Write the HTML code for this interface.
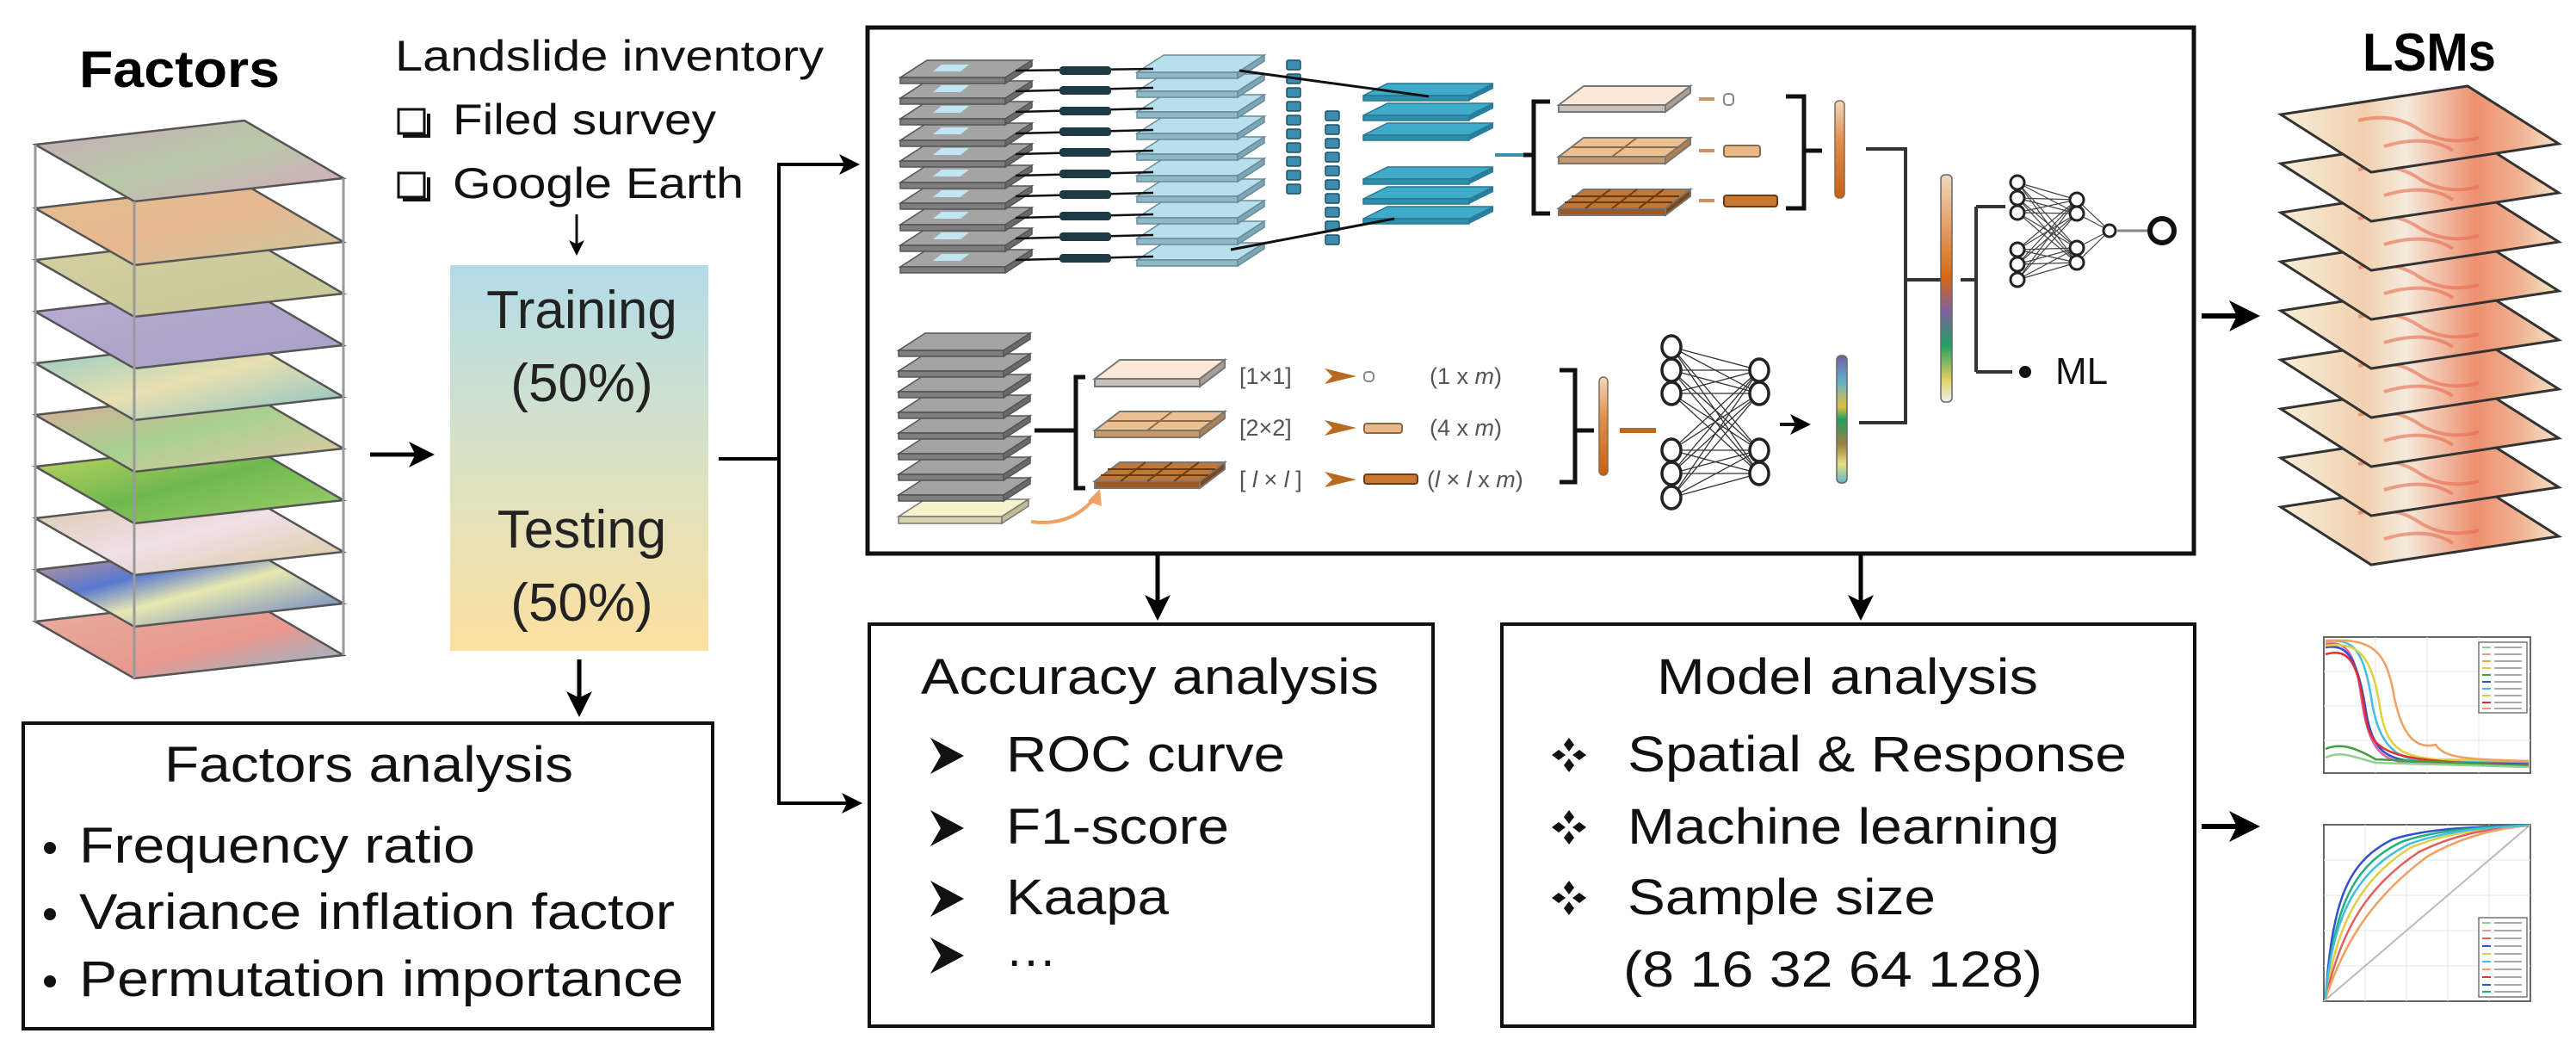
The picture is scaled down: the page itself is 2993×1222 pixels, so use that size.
<!DOCTYPE html>
<html><head><meta charset="utf-8"><style>
html,body{margin:0;padding:0;background:#fff;}
svg{display:block;font-family:"Liberation Sans",Arial,sans-serif;}
</style></head><body>
<svg width="2993" height="1222" viewBox="0 0 2993 1222" xmlns="http://www.w3.org/2000/svg">
<defs>
<marker id="ah" markerWidth="6" markerHeight="6" refX="5" refY="3" orient="auto" markerUnits="strokeWidth"><path d="M0,0 L6,3 L0,6 L1.5,3 z" fill="#000"/></marker>
<linearGradient id="tt" x1="0" y1="0" x2="0" y2="1"><stop offset="0" stop-color="#b3dbe9"/><stop offset="0.5" stop-color="#d9e2c4"/><stop offset="1" stop-color="#fde0a0"/></linearGradient>
<linearGradient id="f1" x1="0" y1="0" x2="1" y2="1"><stop offset="0" stop-color="#c9a9b9"/><stop offset=".5" stop-color="#b8c8a8"/><stop offset="1" stop-color="#d8a8c0"/></linearGradient>
<linearGradient id="f2" x1="0" y1="0" x2="1" y2="1"><stop offset="0" stop-color="#e0c090"/><stop offset=".5" stop-color="#e8b890"/><stop offset="1" stop-color="#c8c8a0"/></linearGradient>
<linearGradient id="f3" x1="0" y1="0" x2="1" y2="1"><stop offset="0" stop-color="#d4cfa0"/><stop offset="1" stop-color="#c8c898"/></linearGradient>
<linearGradient id="f4" x1="0" y1="0" x2="1" y2="1"><stop offset="0" stop-color="#b8acd0"/><stop offset="1" stop-color="#a8a0c8"/></linearGradient>
<linearGradient id="f5" x1="0" y1="0" x2="1" y2="1"><stop offset="0" stop-color="#8cc8c8"/><stop offset=".5" stop-color="#e8e0b0"/><stop offset="1" stop-color="#80c0c8"/></linearGradient>
<linearGradient id="f6" x1="0" y1="0" x2="1" y2="1"><stop offset="0" stop-color="#e0a898"/><stop offset=".5" stop-color="#a8d090"/><stop offset="1" stop-color="#e8c8a8"/></linearGradient>
<linearGradient id="f7" x1="0" y1="0" x2="1" y2="1"><stop offset="0" stop-color="#c8d860"/><stop offset=".5" stop-color="#70b850"/><stop offset="1" stop-color="#a0d070"/></linearGradient>
<linearGradient id="f8" x1="0" y1="0" x2="1" y2="1"><stop offset="0" stop-color="#d8c8a8"/><stop offset=".5" stop-color="#f0e0e8"/><stop offset="1" stop-color="#d8c898"/></linearGradient>
<linearGradient id="f9" x1="0" y1="0" x2="1" y2="1"><stop offset="0" stop-color="#e0a080"/><stop offset=".35" stop-color="#5878d0"/><stop offset=".55" stop-color="#e8e8b0"/><stop offset="1" stop-color="#5070c8"/></linearGradient>
<linearGradient id="f10" x1="0" y1="0" x2="1" y2="1"><stop offset="0" stop-color="#e8b0a0"/><stop offset=".6" stop-color="#e89890"/><stop offset="1" stop-color="#80c0d8"/></linearGradient>
<linearGradient id="lsm" x1="0" y1="0" x2="1" y2="0"><stop offset="0" stop-color="#f6efd8"/><stop offset=".3" stop-color="#f2cfae"/><stop offset=".45" stop-color="#f5ebdc"/><stop offset=".7" stop-color="#ee9070"/><stop offset=".85" stop-color="#f0b090"/><stop offset="1" stop-color="#f4e4c8"/></linearGradient>
<linearGradient id="bar1" x1="0" y1="0" x2="0" y2="1"><stop offset="0" stop-color="#f0d8c0"/><stop offset=".4" stop-color="#e09050"/><stop offset="1" stop-color="#c86010"/></linearGradient>
<linearGradient id="bar2" x1="0" y1="0" x2="0" y2="1"><stop offset="0" stop-color="#7060a0"/><stop offset=".2" stop-color="#60b0d0"/><stop offset=".4" stop-color="#e0c040"/><stop offset=".5" stop-color="#20a060"/><stop offset=".7" stop-color="#a08040"/><stop offset=".85" stop-color="#e8e080"/><stop offset="1" stop-color="#60b8d0"/></linearGradient>
<linearGradient id="bar3" x1="0" y1="0" x2="0" y2="1"><stop offset="0" stop-color="#f0d8c0"/><stop offset=".45" stop-color="#d86810"/><stop offset=".6" stop-color="#8060a0"/><stop offset=".75" stop-color="#20a060"/><stop offset=".9" stop-color="#e0d060"/><stop offset="1" stop-color="#f0f0f0"/></linearGradient>
<g id="gp"><path d="M0,20 L31,0 L153,0 L122,20 z" fill="#a4a4a4" stroke="#555" stroke-width="1.5"/><path d="M0,20 L122,20 L122,27 L0,27 z" fill="#7e7e7e" stroke="#555" stroke-width="1.5"/><path d="M122,20 L153,0 L153,7 L122,27 z" fill="#6a6a6a" stroke="#555" stroke-width="1.5"/></g>
<g id="gpi"><use href="#gp"/><path d="M38,13 L48,5 L80,5 L70,13 z" fill="#bfe6f2"/></g>
<g id="lb"><path d="M0,20 L31,0 L148,0 L117,20 z" fill="#b8e0ec" stroke="#6a8a98" stroke-width="1.5"/><path d="M0,20 L117,20 L117,27 L0,27 z" fill="#8cb8c8" stroke="#6a8a98" stroke-width="1.5"/><path d="M117,20 L148,0 L148,7 L117,27 z" fill="#7aa8b8" stroke="#6a8a98" stroke-width="1.5"/></g>
<g id="bp"><path d="M0,14 L28,0 L151,0 L123,14 z" fill="#40aacb" stroke="#2a7890" stroke-width="1.5"/><path d="M0,14 L123,14 L123,20 L0,20 z" fill="#2e8eae" stroke="#2a7890" stroke-width="1.5"/><path d="M123,14 L151,0 L151,6 L123,20 z" fill="#287e9c"/></g>
<g id="cube"><rect x="0" y="0" width="16" height="11" rx="2" fill="#3a8cb0" stroke="#1f4e60" stroke-width="1.5"/></g>
<g id="dk"><rect x="0" y="-5" width="60" height="10" rx="4" fill="#1e3a44"/></g>
<g id="lp"><path d="M0,33 L217,0 L323,67 L105,100 z" fill="url(#lsm)" stroke="#333" stroke-width="3"/><path d="M90,40 Q130,30 160,50 T230,60 M120,70 Q170,55 200,75" fill="none" stroke="#e86a50" stroke-width="4" opacity=".6"/></g>
</defs>

<text x="92" y="101" font-size="60" font-weight="bold" textLength="233" lengthAdjust="spacingAndGlyphs">Factors</text>

<g stroke="#9a9a9a" stroke-width="3">
<line x1="41" y1="168" x2="41" y2="722"/><line x1="156" y1="234" x2="156" y2="788"/><line x1="399" y1="207" x2="399" y2="761"/>
</g>
<g stroke="#555" stroke-width="2.5">
<path d="M41,722 L284,694 L399,761 L156,788 z" fill="url(#f10)"/>
<path d="M41,662 L284,634 L399,701 L156,728 z" fill="url(#f9)"/>
<path d="M41,602 L284,574 L399,641 L156,668 z" fill="url(#f8)"/>
<path d="M41,542 L284,514 L399,581 L156,608 z" fill="url(#f7)"/>
<path d="M41,482 L284,454 L399,521 L156,548 z" fill="url(#f6)"/>
<path d="M41,422 L284,394 L399,461 L156,488 z" fill="url(#f5)"/>
<path d="M41,362 L284,334 L399,401 L156,428 z" fill="url(#f4)"/>
<path d="M41,302 L284,274 L399,341 L156,368 z" fill="url(#f3)"/>
<path d="M41,242 L284,214 L399,281 L156,308 z" fill="url(#f2)"/>
<path d="M41,168 L284,140 L399,207 L156,234 z" fill="url(#f1)"/>
</g>
<g stroke="#9a9a9a" stroke-width="3"><line x1="156" y1="234" x2="156" y2="788"/><line x1="399" y1="207" x2="399" y2="761"/><line x1="41" y1="168" x2="41" y2="722"/></g>

<text x="459" y="82" font-size="50" textLength="498" lengthAdjust="spacingAndGlyphs" fill="#111">Landslide inventory</text>
<rect x="463" y="127" width="30" height="28" fill="#fff" stroke="#111" stroke-width="3"/><path d="M468,158 L498,158 L498,132" fill="none" stroke="#111" stroke-width="4"/>
<text x="526" y="156" font-size="50" textLength="306" lengthAdjust="spacingAndGlyphs" fill="#111">Filed survey</text>
<rect x="463" y="201" width="30" height="28" fill="#fff" stroke="#111" stroke-width="3"/><path d="M468,232 L498,232 L498,206" fill="none" stroke="#111" stroke-width="4"/>
<text x="526" y="230" font-size="50" textLength="338" lengthAdjust="spacingAndGlyphs" fill="#111">Google Earth</text>
<line x1="670" y1="249" x2="670" y2="294" stroke="#111" stroke-width="3" marker-end="url(#ah)"/>

<rect x="523" y="308" width="300" height="448" fill="url(#tt)"/>
<g font-size="62" text-anchor="middle" fill="#222">
<text x="676" y="381">Training</text>
<text x="676" y="466">(50%)</text>
<text x="676" y="636">Testing</text>
<text x="676" y="721">(50%)</text>
</g>

<line x1="430" y1="528" x2="500" y2="528" stroke="#000" stroke-width="5" marker-end="url(#ah)"/>
<path d="M835,533 L905,533 M905,189 L905,935" stroke="#000" stroke-width="4" fill="none"/>
<line x1="903" y1="191" x2="995" y2="191" stroke="#000" stroke-width="4" marker-end="url(#ah)"/>
<line x1="903" y1="933" x2="998" y2="933" stroke="#000" stroke-width="4" marker-end="url(#ah)"/>
<line x1="673" y1="766" x2="673" y2="828" stroke="#000" stroke-width="5" marker-end="url(#ah)"/>

<rect x="27" y="840" width="801" height="355" fill="#fff" stroke="#111" stroke-width="4"/>
<g font-size="58" fill="#111">
<text x="191" y="908" textLength="475" lengthAdjust="spacingAndGlyphs">Factors analysis</text>
<circle cx="58" cy="985" r="7"/><text x="92" y="1002" textLength="460" lengthAdjust="spacingAndGlyphs">Frequency ratio</text>
<circle cx="58" cy="1062" r="7"/><text x="92" y="1079" textLength="692" lengthAdjust="spacingAndGlyphs">Variance inflation factor</text>
<circle cx="58" cy="1140" r="7"/><text x="92" y="1157" textLength="702" lengthAdjust="spacingAndGlyphs">Permutation importance</text>
</g>

<rect x="1008" y="32" width="1541" height="611" fill="#fff" stroke="#111" stroke-width="5"/>

<g>
<use href="#gpi" x="1046" y="290"/><use href="#gpi" x="1046" y="265"/><use href="#gpi" x="1046" y="241"/><use href="#gpi" x="1046" y="216"/><use href="#gpi" x="1046" y="192"/><use href="#gpi" x="1046" y="167"/><use href="#gpi" x="1046" y="143"/><use href="#gpi" x="1046" y="118"/><use href="#gpi" x="1046" y="94"/><use href="#gpi" x="1046" y="70"/>
</g>
<g>
<use href="#lb" x="1321" y="282"/><use href="#lb" x="1321" y="257"/><use href="#lb" x="1321" y="233"/><use href="#lb" x="1321" y="208"/><use href="#lb" x="1321" y="184"/><use href="#lb" x="1321" y="159"/><use href="#lb" x="1321" y="135"/><use href="#lb" x="1321" y="110"/><use href="#lb" x="1321" y="86"/><use href="#lb" x="1321" y="64"/>
</g>
<g stroke="#111" stroke-width="2.5">
<line x1="1180" y1="82" x2="1340" y2="80"/><line x1="1180" y1="106" x2="1340" y2="102"/><line x1="1180" y1="130" x2="1340" y2="126"/><line x1="1180" y1="155" x2="1340" y2="151"/><line x1="1180" y1="179" x2="1340" y2="175"/><line x1="1180" y1="204" x2="1340" y2="200"/><line x1="1180" y1="228" x2="1340" y2="224"/><line x1="1180" y1="253" x2="1340" y2="249"/><line x1="1180" y1="277" x2="1340" y2="273"/><line x1="1180" y1="302" x2="1340" y2="298"/>
</g>
<g><use href="#dk" x="1231" y="82"/><use href="#dk" x="1231" y="105"/><use href="#dk" x="1231" y="129"/><use href="#dk" x="1231" y="153"/><use href="#dk" x="1231" y="177"/><use href="#dk" x="1231" y="202"/><use href="#dk" x="1231" y="226"/><use href="#dk" x="1231" y="251"/><use href="#dk" x="1231" y="275"/><use href="#dk" x="1231" y="300"/></g>
<g>
<use href="#cube" x="1495" y="70"/><use href="#cube" x="1495" y="86"/><use href="#cube" x="1495" y="102"/><use href="#cube" x="1495" y="118"/><use href="#cube" x="1495" y="134"/><use href="#cube" x="1495" y="150"/><use href="#cube" x="1495" y="166"/><use href="#cube" x="1495" y="182"/><use href="#cube" x="1495" y="198"/><use href="#cube" x="1495" y="214"/>
<use href="#cube" x="1540" y="129"/><use href="#cube" x="1540" y="145"/><use href="#cube" x="1540" y="161"/><use href="#cube" x="1540" y="177"/><use href="#cube" x="1540" y="193"/><use href="#cube" x="1540" y="209"/><use href="#cube" x="1540" y="225"/><use href="#cube" x="1540" y="241"/><use href="#cube" x="1540" y="257"/><use href="#cube" x="1540" y="273"/>
</g>
<use href="#bp" x="1584" y="240"/><use href="#bp" x="1584" y="217"/><use href="#bp" x="1584" y="194"/>
<use href="#bp" x="1584" y="143"/><use href="#bp" x="1584" y="120"/><use href="#bp" x="1584" y="97"/>
<g stroke="#111" stroke-width="3"><line x1="1440" y1="82" x2="1660" y2="112"/><line x1="1430" y1="290" x2="1620" y2="254"/></g>
<line x1="1737" y1="180" x2="1782" y2="180" stroke="#3a90a8" stroke-width="4"/>
<path d="M1801,118 L1782,118 L1782,248 L1801,248 M1782,180 L1770,180" fill="none" stroke="#111" stroke-width="5"/>
<g stroke="#777" stroke-width="2">
<path d="M1811,122 L1840,100 L1964,100 L1935,122 z" fill="#fbe8d6"/><path d="M1811,122 L1935,122 L1935,130 L1811,130 z" fill="#c8c0b8"/><path d="M1935,122 L1964,100 L1964,108 L1935,130 z" fill="#a8a098"/>
<path d="M1811,182 L1840,160 L1964,160 L1935,182 z" fill="#ecc090"/><path d="M1811,182 L1935,182 L1935,190 L1811,190 z" fill="#c89868"/><path d="M1935,182 L1964,160 L1964,168 L1935,190 z" fill="#b08050"/>
<path d="M1873,182 L1902,160 M1825,171 L1950,171" stroke="#8a6a48"/>
<path d="M1811,242 L1840,220 L1964,220 L1935,242 z" fill="#c07838"/><path d="M1811,242 L1935,242 L1935,250 L1811,250 z" fill="#9a5a28"/><path d="M1935,242 L1964,220 L1964,228 L1935,250 z" fill="#804818"/>
<path d="M1842,242 L1871,220 M1873,242 L1902,220 M1904,242 L1933,220 M1818,235 L1943,235 M1826,228 L1951,228" stroke="#6a3a10"/>
</g>
<g stroke="#d09060" stroke-width="4"><line x1="1974" y1="115" x2="1992" y2="115"/><line x1="1974" y1="175" x2="1992" y2="175"/><line x1="1974" y1="233" x2="1992" y2="233"/></g>
<rect x="2003" y="109" width="11" height="13" rx="4" fill="#fff" stroke="#888" stroke-width="2"/>
<rect x="2003" y="169" width="42" height="13" rx="3" fill="#e8b888" stroke="#8a6a48" stroke-width="2"/>
<rect x="2003" y="227" width="62" height="13" rx="3" fill="#c87830" stroke="#6a3a10" stroke-width="2"/>
<path d="M2075,112 L2096,112 L2096,242 L2075,242 M2096,175 L2117,175" fill="none" stroke="#111" stroke-width="5"/>
<rect x="2132" y="117" width="11" height="113" rx="5" fill="url(#bar1)" stroke="#8a6a48" stroke-width="1.5"/>
<path d="M2168,173 L2214,173 L2214,491 L2168,491 M2214,325 L2255,325 M2278,325 L2296,325 M2296,240 L2296,432 M2296,240 L2330,240 M2296,432 L2338,432" fill="none" stroke="#333" stroke-width="4"/>
<rect x="2255" y="203" width="13" height="264" rx="5" fill="url(#bar3)" stroke="#666" stroke-width="1.5"/>
<circle cx="2353" cy="432" r="7" fill="#111"/>
<text x="2388" y="446" font-size="44" fill="#111">ML</text>
<g stroke="#444" stroke-width="1.2">
<path d="M2344,212 L2413,232 M2344,212 L2413,248 M2344,212 L2413,288 M2344,212 L2413,305 M2344,230 L2413,232 M2344,230 L2413,248 M2344,230 L2413,288 M2344,230 L2413,305 M2344,247 L2413,232 M2344,247 L2413,248 M2344,247 L2413,288 M2344,247 L2413,305 M2344,290 L2413,232 M2344,290 L2413,248 M2344,290 L2413,288 M2344,290 L2413,305 M2344,307 L2413,232 M2344,307 L2413,248 M2344,307 L2413,288 M2344,307 L2413,305 M2344,325 L2413,232 M2344,325 L2413,248 M2344,325 L2413,288 M2344,325 L2413,305 M2413,232 L2451,268 M2413,248 L2451,268 M2413,288 L2451,268 M2413,305 L2451,268"/>
</g>
<g><circle cx="2344" cy="212" r="8" fill="#fff" stroke="#222" stroke-width="3"/><circle cx="2344" cy="230" r="8" fill="#fff" stroke="#222" stroke-width="3"/><circle cx="2344" cy="247" r="8" fill="#fff" stroke="#222" stroke-width="3"/><circle cx="2344" cy="290" r="8" fill="#fff" stroke="#222" stroke-width="3"/><circle cx="2344" cy="307" r="8" fill="#fff" stroke="#222" stroke-width="3"/><circle cx="2344" cy="325" r="8" fill="#fff" stroke="#222" stroke-width="3"/>
<circle cx="2413" cy="232" r="8" fill="#fff" stroke="#222" stroke-width="3"/><circle cx="2413" cy="248" r="8" fill="#fff" stroke="#222" stroke-width="3"/><circle cx="2413" cy="288" r="8" fill="#fff" stroke="#222" stroke-width="3"/><circle cx="2413" cy="305" r="8" fill="#fff" stroke="#222" stroke-width="3"/>
<circle cx="2451" cy="268" r="7" fill="#fff" stroke="#222" stroke-width="3"/></g>
<line x1="2460" y1="268" x2="2496" y2="268" stroke="#888" stroke-width="3"/>
<circle cx="2512" cy="268" r="14" fill="#fff" stroke="#111" stroke-width="6"/>

<g>
<path d="M1044,600 L1075,580 L1195,580 L1164,600 z" fill="#f6f2cc" stroke="#777" stroke-width="1.5"/><path d="M1044,600 L1164,600 L1164,608 L1044,608 z" fill="#d8d4b0" stroke="#777" stroke-width="1.5"/><path d="M1164,600 L1195,580 L1195,588 L1164,608 z" fill="#c0bc98" stroke="#777" stroke-width="1.5"/>
<use href="#gp" x="1044" y="555"/><use href="#gp" x="1044" y="531"/><use href="#gp" x="1044" y="507"/><use href="#gp" x="1044" y="483"/><use href="#gp" x="1044" y="459"/><use href="#gp" x="1044" y="435"/><use href="#gp" x="1044" y="411"/><use href="#gp" x="1044" y="387"/>
</g>
<path d="M1198,606 Q1245,612 1272,578" fill="none" stroke="#f0a060" stroke-width="4"/><path d="M1264,582 L1278,568 L1280,588 z" fill="#f0a060"/>
<path d="M1202,500 L1250,500 M1261,438 L1250,438 L1250,567 L1261,567" fill="none" stroke="#111" stroke-width="5"/>
<g stroke="#777" stroke-width="2">
<path d="M1272,440 L1301,418 L1423,418 L1394,440 z" fill="#fbe8d6"/><path d="M1272,440 L1394,440 L1394,449 L1272,449 z" fill="#c8c0b8"/><path d="M1394,440 L1423,418 L1423,427 L1394,449 z" fill="#a8a098"/>
<path d="M1272,500 L1301,478 L1423,478 L1394,500 z" fill="#ecc090"/><path d="M1272,500 L1394,500 L1394,508 L1272,508 z" fill="#c89868"/><path d="M1394,500 L1423,478 L1423,486 L1394,508 z" fill="#b08050"/>
<path d="M1333,500 L1362,478 M1286,489 L1409,489" stroke="#8a6a48"/>
<path d="M1272,559 L1301,537 L1423,537 L1394,559 z" fill="#c07838"/><path d="M1272,559 L1394,559 L1394,567 L1272,567 z" fill="#9a5a28"/><path d="M1394,559 L1423,537 L1423,545 L1394,567 z" fill="#804818"/>
<path d="M1302,559 L1331,537 M1333,559 L1362,537 M1364,559 L1393,537 M1279,552 L1404,552 M1287,545 L1412,545" stroke="#6a3a10"/>
</g>
<g font-size="27" fill="#555">
<text x="1440" y="446">[1×1]</text><text x="1440" y="506">[2×2]</text><text x="1440" y="566">[ <tspan font-style="italic">l</tspan> × <tspan font-style="italic">l</tspan> ]</text>
<text x="1661" y="446">(1 x <tspan font-style="italic">m</tspan>)</text><text x="1661" y="506">(4 x <tspan font-style="italic">m</tspan>)</text><text x="1658" y="566">(<tspan font-style="italic">l</tspan> × <tspan font-style="italic">l</tspan> x <tspan font-style="italic">m</tspan>)</text>
</g>
<g fill="#b86a20"><path d="M1539,428 L1576,437 L1539,446 L1548,437 z"/><path d="M1539,488 L1576,497 L1539,506 L1548,497 z"/><path d="M1539,548 L1576,557 L1539,566 L1548,557 z"/></g>
<rect x="1585" y="432" width="11" height="11" rx="4" fill="#fff" stroke="#888" stroke-width="2"/>
<rect x="1585" y="492" width="44" height="11" rx="3" fill="#e8b888" stroke="#8a6a48" stroke-width="2"/>
<rect x="1585" y="551" width="62" height="11" rx="3" fill="#c87830" stroke="#6a3a10" stroke-width="2"/>
<path d="M1812,430 L1830,430 L1830,560 L1812,560 M1830,500 L1852,500" fill="none" stroke="#111" stroke-width="5"/>
<rect x="1858" y="438" width="10" height="114" rx="5" fill="url(#bar1)" stroke="#8a6a48" stroke-width="1.5"/>
<line x1="1882" y1="500" x2="1924" y2="500" stroke="#b86a20" stroke-width="6"/>
<g stroke="#333" stroke-width="1.3">
<path d="M1942,403 L2044,430 M1942,403 L2044,457 M1942,403 L2044,523 M1942,403 L2044,550 M1942,430 L2044,430 M1942,430 L2044,457 M1942,430 L2044,523 M1942,430 L2044,550 M1942,457 L2044,430 M1942,457 L2044,457 M1942,457 L2044,523 M1942,457 L2044,550 M1942,523 L2044,430 M1942,523 L2044,457 M1942,523 L2044,523 M1942,523 L2044,550 M1942,550 L2044,430 M1942,550 L2044,457 M1942,550 L2044,523 M1942,550 L2044,550 M1942,578 L2044,430 M1942,578 L2044,457 M1942,578 L2044,523 M1942,578 L2044,550"/>
</g>
<g fill="#fff" stroke="#222" stroke-width="3.5">
<ellipse cx="1942" cy="403" rx="11" ry="13"/><ellipse cx="1942" cy="430" rx="11" ry="13"/><ellipse cx="1942" cy="457" rx="11" ry="13"/><ellipse cx="1942" cy="523" rx="11" ry="13"/><ellipse cx="1942" cy="550" rx="11" ry="13"/><ellipse cx="1942" cy="578" rx="11" ry="13"/>
<ellipse cx="2044" cy="430" rx="11" ry="13"/><ellipse cx="2044" cy="457" rx="11" ry="13"/><ellipse cx="2044" cy="523" rx="11" ry="13"/><ellipse cx="2044" cy="550" rx="11" ry="13"/>
</g>
<line x1="2068" y1="493" x2="2100" y2="493" stroke="#111" stroke-width="4" marker-end="url(#ah)"/>
<rect x="2134" y="413" width="12" height="148" rx="5" fill="url(#bar2)" stroke="#666" stroke-width="1.5"/>
<line x1="2160" y1="491" x2="2214" y2="491" stroke="#333" stroke-width="4"/>

<line x1="1345" y1="644" x2="1345" y2="716" stroke="#000" stroke-width="5" marker-end="url(#ah)"/>
<line x1="2162" y1="644" x2="2162" y2="716" stroke="#000" stroke-width="5" marker-end="url(#ah)"/>

<rect x="1010" y="725" width="655" height="467" fill="#fff" stroke="#111" stroke-width="4"/>
<g font-size="58" fill="#111">
<text x="1070" y="806" textLength="532" lengthAdjust="spacingAndGlyphs">Accuracy analysis</text>
<text x="1169" y="896" textLength="324" lengthAdjust="spacingAndGlyphs">ROC curve</text>
<text x="1169" y="980" textLength="259" lengthAdjust="spacingAndGlyphs">F1-score</text>
<text x="1169" y="1062" textLength="189" lengthAdjust="spacingAndGlyphs">Kaapa</text>
<text x="1169" y="1135">···</text>
</g>
<g fill="#111">
<path d="M1081,857 L1120,878 L1081,899 L1093,878 z"/><path d="M1081,941 L1120,962 L1081,983 L1093,962 z"/><path d="M1081,1023 L1120,1044 L1081,1065 L1093,1044 z"/><path d="M1081,1089 L1120,1110 L1081,1131 L1093,1110 z"/>
</g>

<rect x="1745" y="725" width="805" height="467" fill="#fff" stroke="#111" stroke-width="4"/>
<g font-size="58" fill="#111">
<text x="1925" y="806" textLength="443" lengthAdjust="spacingAndGlyphs">Model analysis</text>
<text x="1891" y="896" textLength="580" lengthAdjust="spacingAndGlyphs">Spatial &amp; Response</text>
<text x="1891" y="980" textLength="502" lengthAdjust="spacingAndGlyphs">Machine learning</text>
<text x="1891" y="1062" textLength="358" lengthAdjust="spacingAndGlyphs">Sample size</text>
<text x="1886" y="1146" textLength="487" lengthAdjust="spacingAndGlyphs">(8 16 32 64 128)</text>
</g>
<g fill="#111">
<g transform="translate(1823,877)"><path d="M0,-20 L6,-12 L0,-4 L-6,-12z M0,4 L6,12 L0,20 L-6,12z M-20,0 L-12,-6 L-4,0 L-12,6z M20,0 L12,-6 L4,0 L12,6z"/></g>
<g transform="translate(1823,961)"><path d="M0,-20 L6,-12 L0,-4 L-6,-12z M0,4 L6,12 L0,20 L-6,12z M-20,0 L-12,-6 L-4,0 L-12,6z M20,0 L12,-6 L4,0 L12,6z"/></g>
<g transform="translate(1823,1043)"><path d="M0,-20 L6,-12 L0,-4 L-6,-12z M0,4 L6,12 L0,20 L-6,12z M-20,0 L-12,-6 L-4,0 L-12,6z M20,0 L12,-6 L4,0 L12,6z"/></g>
</g>

<line x1="2558" y1="367" x2="2620" y2="367" stroke="#000" stroke-width="6" marker-end="url(#ah)"/>
<line x1="2558" y1="960" x2="2620" y2="960" stroke="#000" stroke-width="6" marker-end="url(#ah)"/>

<text x="2745" y="82" font-size="62" font-weight="bold" textLength="155" lengthAdjust="spacingAndGlyphs">LSMs</text>
<g>
<use href="#lp" x="2650" y="556"/><use href="#lp" x="2650" y="499"/><use href="#lp" x="2650" y="442"/><use href="#lp" x="2650" y="385"/><use href="#lp" x="2650" y="328"/><use href="#lp" x="2650" y="271"/><use href="#lp" x="2650" y="214"/><use href="#lp" x="2650" y="157"/><use href="#lp" x="2650" y="100"/>
</g>

<g>
<rect x="2700" y="740" width="240" height="158" fill="#fff" stroke="#666" stroke-width="2"/>
<g stroke="#e4e4e4" stroke-width="1"><line x1="2760" y1="740" x2="2760" y2="898"/><line x1="2820" y1="740" x2="2820" y2="898"/><line x1="2880" y1="740" x2="2880" y2="898"/><line x1="2700" y1="780" x2="2940" y2="780"/><line x1="2700" y1="820" x2="2940" y2="820"/><line x1="2700" y1="860" x2="2940" y2="860"/></g>
<g fill="none" stroke-width="2.5">
<path d="M2702,748 C2720,745 2735,750 2742,800 C2750,860 2760,880 2790,885 L2938,888" stroke="#e060a0"/>
<path d="M2702,752 C2725,748 2738,760 2748,820 C2755,870 2770,880 2800,884 L2938,886" stroke="#3050d0"/>
<path d="M2702,745 C2730,742 2745,748 2755,810 C2762,860 2780,880 2810,883 L2938,885" stroke="#40c0e0"/>
<path d="M2702,750 C2740,745 2755,760 2765,820 C2772,870 2790,878 2830,882 L2938,884" stroke="#e0d040"/>
<path d="M2702,744 C2750,742 2770,750 2780,800 C2790,860 2810,870 2830,865 C2840,880 2860,882 2938,884" stroke="#f0a060"/>
<path d="M2702,760 C2730,752 2740,770 2748,830 C2755,880 2780,884 2938,889" stroke="#e03030"/>
<path d="M2702,870 C2720,862 2740,870 2760,882 L2938,890" stroke="#40a040"/>
<path d="M2702,880 C2720,872 2730,878 2760,886 L2938,891" stroke="#90d090"/>
</g>
<rect x="2880" y="746" width="56" height="82" fill="#fff" stroke="#777" stroke-width="1.5"/>
<g stroke-width="2"><line x1="2884" y1="752" x2="2894" y2="752" stroke="#90d090"/><line x1="2884" y1="760" x2="2894" y2="760" stroke="#e0a0a0"/><line x1="2884" y1="768" x2="2894" y2="768" stroke="#f0a060"/><line x1="2884" y1="776" x2="2894" y2="776" stroke="#e0d040"/><line x1="2884" y1="784" x2="2894" y2="784" stroke="#40a040"/><line x1="2884" y1="792" x2="2894" y2="792" stroke="#3050d0"/><line x1="2884" y1="800" x2="2894" y2="800" stroke="#40c0e0"/><line x1="2884" y1="808" x2="2894" y2="808" stroke="#e0d040"/><line x1="2884" y1="816" x2="2894" y2="816" stroke="#e03030"/><line x1="2884" y1="823" x2="2894" y2="823" stroke="#f0a060"/></g>
<g stroke="#aaa" stroke-width="2"><line x1="2898" y1="752" x2="2930" y2="752"/><line x1="2898" y1="760" x2="2930" y2="760"/><line x1="2898" y1="768" x2="2930" y2="768"/><line x1="2898" y1="776" x2="2930" y2="776"/><line x1="2898" y1="784" x2="2930" y2="784"/><line x1="2898" y1="792" x2="2930" y2="792"/><line x1="2898" y1="800" x2="2930" y2="800"/><line x1="2898" y1="808" x2="2930" y2="808"/><line x1="2898" y1="816" x2="2930" y2="816"/><line x1="2898" y1="823" x2="2930" y2="823"/></g>
</g>
<g>
<rect x="2700" y="958" width="240" height="205" fill="#fff" stroke="#666" stroke-width="2"/>
<g stroke="#e4e4e4" stroke-width="1"><line x1="2748" y1="958" x2="2748" y2="1163"/><line x1="2796" y1="958" x2="2796" y2="1163"/><line x1="2844" y1="958" x2="2844" y2="1163"/><line x1="2892" y1="958" x2="2892" y2="1163"/><line x1="2700" y1="999" x2="2940" y2="999"/><line x1="2700" y1="1040" x2="2940" y2="1040"/><line x1="2700" y1="1081" x2="2940" y2="1081"/><line x1="2700" y1="1122" x2="2940" y2="1122"/></g>
<line x1="2700" y1="1163" x2="2940" y2="958" stroke="#bbb" stroke-width="2"/>
<g fill="none" stroke-width="2.5">
<path d="M2702,1160 C2710,1040 2730,1000 2780,975 C2820,962 2880,960 2938,959" stroke="#3050d0"/>
<path d="M2702,1160 C2712,1050 2735,1005 2790,978 C2830,964 2880,961 2938,959" stroke="#20b080"/>
<path d="M2702,1160 C2715,1070 2745,1020 2800,985 C2840,968 2890,961 2938,959" stroke="#e0d040"/>
<path d="M2702,1160 C2720,1080 2750,1030 2810,990 C2850,970 2890,962 2938,959" stroke="#e06060"/>
<path d="M2702,1160 C2725,1090 2760,1040 2820,995 C2860,972 2900,962 2938,959" stroke="#f0a060"/>
<path d="M2702,1160 C2710,1060 2740,1010 2800,980 C2840,966 2890,960 2938,959" stroke="#40c0e0"/>
</g>
<rect x="2880" y="1066" width="56" height="92" fill="#fff" stroke="#777" stroke-width="1.5"/>
<g stroke-width="2"><line x1="2884" y1="1072" x2="2894" y2="1072" stroke="#90d090"/><line x1="2884" y1="1081" x2="2894" y2="1081" stroke="#e0a0a0"/><line x1="2884" y1="1090" x2="2894" y2="1090" stroke="#e06060"/><line x1="2884" y1="1099" x2="2894" y2="1099" stroke="#3050d0"/><line x1="2884" y1="1108" x2="2894" y2="1108" stroke="#e0d040"/><line x1="2884" y1="1117" x2="2894" y2="1117" stroke="#40c0e0"/><line x1="2884" y1="1126" x2="2894" y2="1126" stroke="#f0a060"/><line x1="2884" y1="1135" x2="2894" y2="1135" stroke="#e03030"/><line x1="2884" y1="1144" x2="2894" y2="1144" stroke="#3050d0"/><line x1="2884" y1="1152" x2="2894" y2="1152" stroke="#20b080"/></g>
<g stroke="#aaa" stroke-width="2"><line x1="2898" y1="1072" x2="2930" y2="1072"/><line x1="2898" y1="1081" x2="2930" y2="1081"/><line x1="2898" y1="1090" x2="2930" y2="1090"/><line x1="2898" y1="1099" x2="2930" y2="1099"/><line x1="2898" y1="1108" x2="2930" y2="1108"/><line x1="2898" y1="1117" x2="2930" y2="1117"/><line x1="2898" y1="1126" x2="2930" y2="1126"/><line x1="2898" y1="1135" x2="2930" y2="1135"/><line x1="2898" y1="1144" x2="2930" y2="1144"/><line x1="2898" y1="1152" x2="2930" y2="1152"/></g>
</g>
</svg>
</body></html>
